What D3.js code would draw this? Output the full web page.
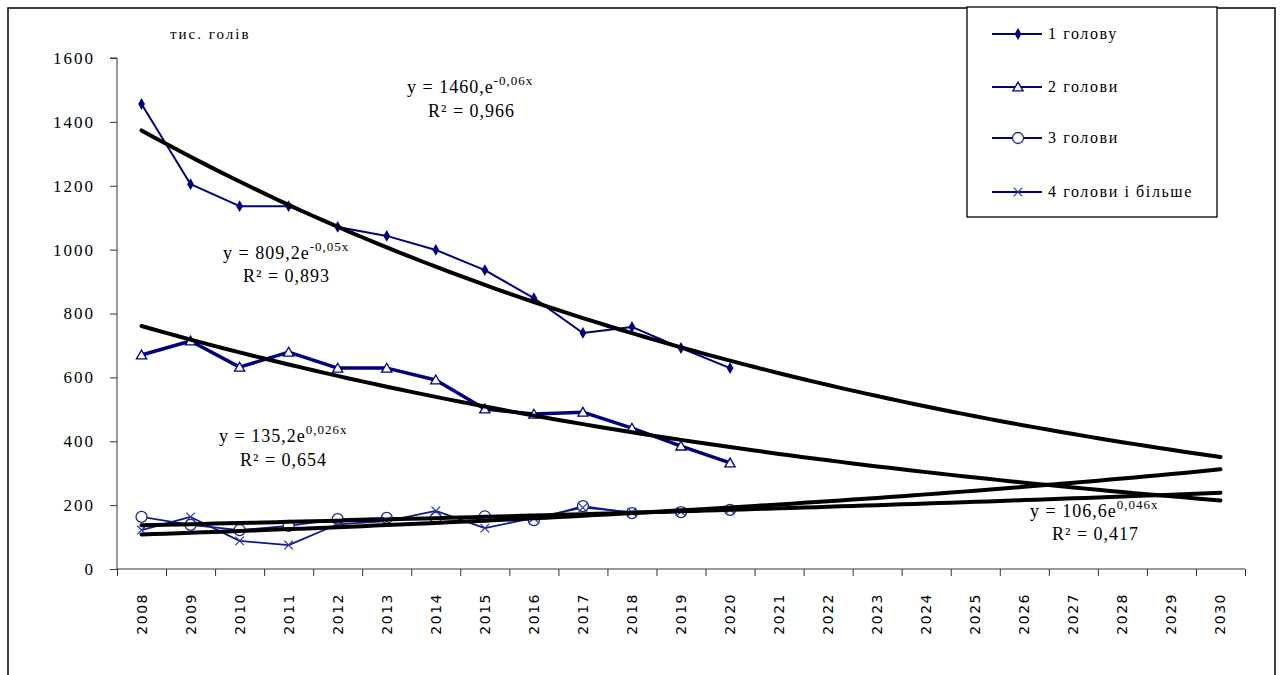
<!DOCTYPE html>
<html><head><meta charset="utf-8">
<script src="https://cdn.jsdelivr.net/npm/d3@7"></script>
<style>body{margin:0;background:#fff}</style>
</head><body>
<svg id="c" width="1280" height="675"></svg>
<script>
// ---------- data ----------
const years = ["2008","2009","2010","2011","2012","2013","2014","2015","2016","2017","2018","2019","2020",
               "2021","2022","2023","2024","2025","2026","2027","2028","2029","2030"];
const yTicks = [0,200,400,600,800,1000,1200,1400,1600];
const seriesNames = ["1 голову","2 голови","3 голови","4 голови і більше"];
const s1 = [1456,1205,1136,1136,1071,1043,999,936,848,739,758,692,629];
const s2 = [670,714,632,679,629,629,592,501,485,491,441,385,332];
const s3 = [163,138,122,135,156,160,160,165,153,197,175,178,185];
const s4 = [122,163,88,75,140,150,182,128,160,192,178,180,186];
const eqMain = ["y = 1460,e","y = 809,2e","y = 135,2e","y = 106,6e"];
const eqSup  = ["-0,06x","-0,05x","0,026x","0,046x"];
const eqR2   = ["R² = 0,966","R² = 0,893","R² = 0,654","R² = 0,417"];
const unitLabel = "тис. голів";

// ---------- layout ----------
const svg = d3.select("#c");
const L = 117, R = 1245, T = 58, B = 569;
const navy = "#000080";
const x = d3.scaleBand().domain(years).range([L, R]);
const bw = x.bandwidth();
const xb = d3.scaleLinear().domain([0, years.length]).range([L, R]);
const y = d3.scaleLinear().domain([0, 1600]).range([B, T]);
const cx = i => x(years[i]) + bw / 2;
const cxf = t => x(years[0]) + bw / 2 + (t - 1) * bw; // t = 1..23

// frame
svg.append("rect").attr("x", 8).attr("y", 8).attr("width", 1267).attr("height", 720)
  .attr("fill", "#fff").attr("stroke", "#000").attr("stroke-width", 1.5);

// y axis
const ya = svg.append("g").attr("transform", `translate(${L},0)`)
  .call(d3.axisLeft(y).tickValues(yTicks).tickSize(7).tickPadding(15).tickFormat(d3.format("d")));
ya.attr("font-family", null);
ya.select(".domain").attr("stroke", "#333").attr("d", `M-7,${T}H0V${B}`);
ya.selectAll(".tick line").attr("stroke", "#333");
ya.selectAll(".tick text").attr("font-family", "Liberation Serif").attr("font-size", 17)
  .attr("letter-spacing", 2).attr("fill", "#000");

// x axis tick marks at band boundaries
const xa = svg.append("g").attr("transform", `translate(0,${B})`)
  .call(d3.axisBottom(xb).tickValues(d3.range(0, years.length + 1)).tickSize(7).tickFormat(""));
xa.select(".domain").attr("stroke", "#333").attr("d", `M${L},0H${R}`);
xa.selectAll(".tick line").attr("stroke", "#333");

// x labels
const xl = svg.append("g").attr("transform", `translate(0,${B})`)
  .call(d3.axisBottom(x).tickSize(0).tickPadding(0));
xl.select(".domain").remove();
xl.selectAll(".tick text")
  .attr("font-family", "DejaVu Sans").attr("font-size", 14).attr("letter-spacing", 1.5).attr("fill", "#000")
  .attr("text-anchor", "end").attr("dominant-baseline", "central")
  .attr("transform", "translate(0,24) rotate(-90)").attr("x", 0).attr("y", 0).attr("dy", null);

// unit label
svg.append("text").attr("x", 170).attr("y", 39).text(unitLabel)
  .attr("font-family", "Liberation Serif").attr("font-size", 15).attr("letter-spacing", 2);

// ---------- series ----------
const series = [s1, s2, s3, s4];
const widths = [2, 3.5, 1.8, 1.8];
const lineGen = d3.line().x((d, i) => cx(i)).y(d => y(d));
const sg = svg.append("g");
series.forEach((s, k) => {
  sg.append("path").attr("d", lineGen(s)).attr("fill", "none").attr("stroke", k > 1 ? "#101c8c" : navy)
    .attr("stroke-width", widths[k]).attr("stroke-linejoin", "round");
});

function marker(g, k, px, py) {
  if (k === 0) {
    g.append("path").attr("d", d3.symbol(d3.symbolDiamond, 40)()).attr("transform", `translate(${px},${py})`)
      .attr("fill", navy);
  } else if (k === 1) {
    g.append("path").attr("d", d3.symbol(d3.symbolTriangle, 45)()).attr("transform", `translate(${px},${py+1})`)
      .attr("fill", "#fff").attr("stroke", navy).attr("stroke-width", 1.3);
  } else if (k === 2) {
    g.append("circle").attr("cx", px).attr("cy", py).attr("r", 5.5)
      .attr("fill", "#fff").attr("stroke", "#1a2890").attr("stroke-width", 1.3);
  } else {
    g.append("path").attr("d", d3.symbol(d3.symbolX, 50)()).attr("transform", `translate(${px},${py})`)
      .attr("fill", "none").attr("stroke", "#2a3a9a").attr("stroke-width", 1.2);
  }
}
series.forEach((s, k) => s.forEach((v, i) => marker(sg, k, cx(i), y(v))));

// ---------- exponential trend lines (least-squares on ln y) ----------
function expFit(s) {
  const xs = s.map((d, i) => i + 1), ls = s.map(Math.log);
  const mx = d3.mean(xs), ml = d3.mean(ls);
  const b = d3.sum(xs, (xx, i) => (xx - mx) * (ls[i] - ml)) / d3.sum(xs, xx => (xx - mx) ** 2);
  return { a: Math.exp(ml - b * mx), b };
}
const tg = svg.append("g");
series.forEach(s => {
  const f = expFit(s);
  const ts = d3.range(1, years.length + 0.001, 0.25);
  tg.append("path").attr("d", d3.line().x(t => cxf(t)).y(t => y(f.a * Math.exp(f.b * t)))(ts))
    .attr("fill", "none").attr("stroke", "#000").attr("stroke-width", 4).attr("stroke-linecap", "round");
});

// ---------- equation labels ----------
const eqPos = [[407, 93, 428, 117], [223, 259, 243, 282], [219, 442, 240, 466], [1030, 517, 1052, 540]];
eqPos.forEach((p, k) => {
  const t = svg.append("text").attr("x", p[0]).attr("y", p[1])
    .attr("font-family", "Liberation Serif").attr("font-size", 18).attr("letter-spacing", 1);
  t.append("tspan").text(eqMain[k]);
  t.append("tspan").attr("dy", -8).attr("font-size", 13).text(eqSup[k]);
  svg.append("text").attr("x", p[2]).attr("y", p[3]).text(eqR2[k])
    .attr("font-family", "Liberation Serif").attr("font-size", 18).attr("letter-spacing", 1);
});

// ---------- legend ----------
const lg = svg.append("g");
lg.append("rect").attr("x", 967).attr("y", 7).attr("width", 250).attr("height", 210)
  .attr("fill", "#fff").attr("stroke", "#000").attr("stroke-width", 1.3);
const legY = [34, 87, 138, 192];
seriesNames.forEach((n, k) => {
  lg.append("line").attr("x1", 992).attr("x2", 1042).attr("y1", legY[k]).attr("y2", legY[k])
    .attr("stroke", navy).attr("stroke-width", 2);
  marker(lg, k, 1018, legY[k]);
  lg.append("text").attr("x", 1048).attr("y", legY[k] + 5).text(n)
    .attr("font-family", "Liberation Serif").attr("font-size", 16).attr("letter-spacing", 1.6);
});
</script>
</body></html>
